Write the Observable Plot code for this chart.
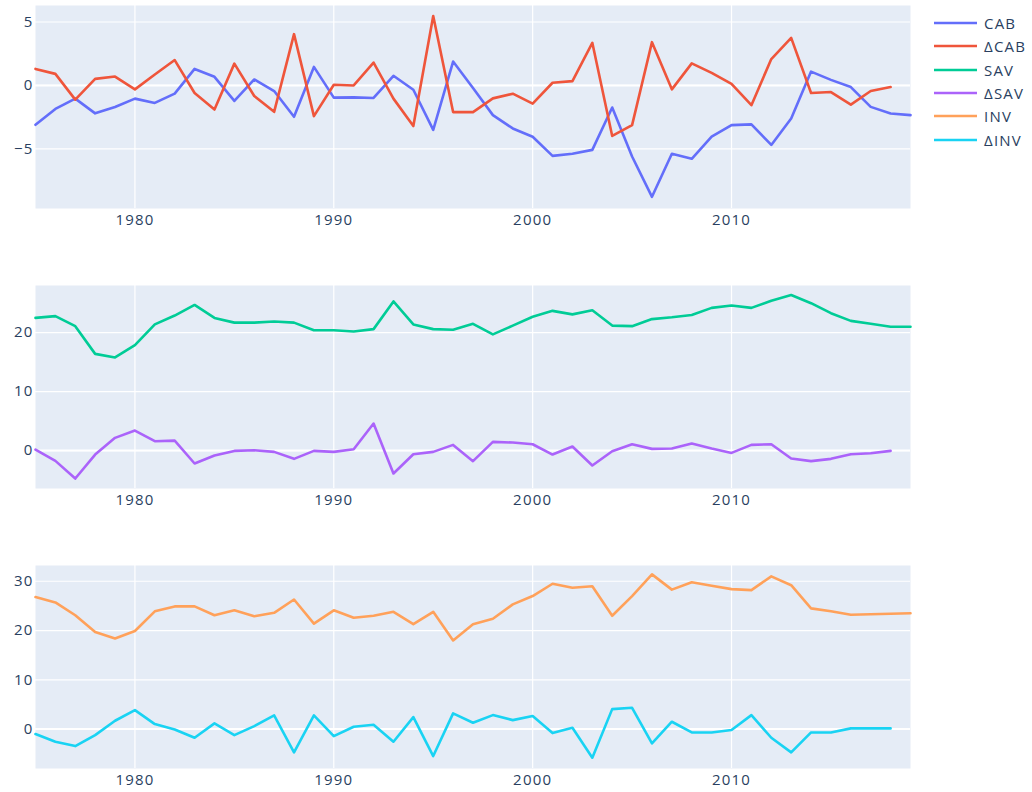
<!DOCTYPE html>
<html>
<head>
<meta charset="utf-8">
<script src="https://cdn.jsdelivr.net/npm/d3@7"></script>
<script src="https://cdn.jsdelivr.net/npm/@observablehq/plot@0.6"></script>
<style>
  body { margin: 0; background: #ffffff; font-family: "Open Sans", sans-serif; }
  #wrap { position: relative; width: 1032px; height: 792px; overflow: hidden; }
  .panel { position: absolute; left: 0; }
  .legend-item { position: absolute; left: 934px; height: 20px; display: flex; align-items: center;
    font-family: "Open Sans", sans-serif; font-size: 15px; color: #2a3f5f; letter-spacing: 1.2px; }
  .legend-item svg { margin-right: 7px; }
</style>
</head>
<body>
<div id="wrap"></div>
<script>
const years = [1975,1976,1977,1978,1979,1980,1981,1982,1983,1984,
               1985,1986,1987,1988,1989,1990,1991,1992,1993,1994,
               1995,1996,1997,1998,1999,2000,2001,2002,2003,2004,
               2005,2006,2007,2008,2009,2010,2011,2012,2013,2014,
               2015,2016,2017,2018,2019];

const CAB = [-3.1,-1.85,-1.04,-2.2,-1.7,-1.04,-1.38,-0.65,1.3,0.68,
             -1.22,0.47,-0.44,-2.47,1.46,-0.96,-0.94,-0.99,0.76,-0.34,
             -3.5,1.88,-0.2,-2.34,-3.39,-4.04,-5.55,-5.39,-5.08,-1.74,
             -5.6,-8.78,-5.39,-5.78,-4.04,-3.13,-3.07,-4.69,-2.6,1.09,
             0.44,-0.13,-1.69,-2.21,-2.34];
const dCAB = [1.3,0.91,-1.12,0.52,0.7,-0.31,0.86,2.0,-0.6,-1.9,
              1.72,-0.83,-2.08,4.04,-2.42,0.05,0.0,1.8,-1.04,-3.2,
              5.47,-2.1,-2.1,-1.02,-0.65,-1.43,0.21,0.34,3.36,-3.98,
              -3.13,3.41,-0.31,1.74,0.99,0.13,-1.56,2.08,3.75,-0.6,
              -0.52,-1.51,-0.44,-0.13];
const SAV = [22.5,22.8,21.1,16.4,15.8,17.9,21.4,22.9,24.7,22.5,
             21.7,21.7,21.9,21.7,20.4,20.4,20.2,20.6,25.3,21.4,
             20.6,20.5,21.5,19.7,21.2,22.7,23.7,23.1,23.8,21.2,
             21.1,22.3,22.6,23.0,24.2,24.6,24.2,25.4,26.4,25.0,
             23.3,22.0,21.5,21.0,21.0];
const dSAV = [0.17,-1.75,-4.75,-0.68,2.15,3.39,1.58,1.69,-2.2,-0.85,
              -0.06,0.06,-0.23,-1.41,-0.06,-0.23,0.23,4.58,-3.9,-0.62,
              -0.23,0.96,-1.8,1.47,1.36,1.07,-0.68,0.68,-2.54,-0.11,
              1.07,0.28,0.34,1.19,0.34,-0.4,0.96,1.07,-1.36,-1.8,
              -1.41,-0.62,-0.45,-0.06];
const INV = [26.8,25.7,23.1,19.7,18.4,19.9,23.9,24.9,24.9,23.1,
             24.1,22.9,23.6,26.3,21.4,24.1,22.6,23.0,23.8,21.3,
             23.8,18.0,21.3,22.4,25.3,27.0,29.5,28.7,29.0,23.0,
             27.0,31.4,28.3,29.8,29.1,28.4,28.2,31.0,29.2,24.5,
             23.9,23.2,23.3,23.4,23.5];
const dINV = [-1.0,-2.57,-3.45,-1.22,1.69,3.85,1.01,-0.07,-1.76,1.15,
              -1.22,0.61,2.77,-4.73,2.77,-1.42,0.47,0.88,-2.57,2.43,
              -5.47,3.18,1.28,2.84,1.82,2.64,-0.81,0.27,-5.81,4.05,
              4.32,-2.91,1.49,-0.68,-0.68,-0.2,2.84,-1.76,-4.73,-0.68,
              -0.68,0.14,0.14,0.14];

const seriesNames = ["CAB","ΔCAB","SAV","ΔSAV","INV","ΔINV"];
const seriesColors = ["#636efa","#EF553B","#00cc96","#ab63fa","#FFA15A","#19d3f3"];
const xTicks = [1980,1990,2000,2010];
const yTicksTop = [-5,0,5];
const yTicksMid = [0,10,20];
const yTicksBot = [0,10,20,30];

const seriesValues = [CAB,dCAB,SAV,dSAV,INV,dINV];
const rows = i => seriesValues[i].map((v,k) => ({year: years[k], value: v}));

const panels = [
  {top: 0,   idx: [0,1], yDomain: [-9.7, 6.3],  yTicks: yTicksTop},
  {top: 280, idx: [2,3], yDomain: [-6.44, 28.0], yTicks: yTicksMid},
  {top: 560, idx: [4,5], yDomain: [-8.0, 33.2], yTicks: yTicksBot}
];

const wrap = document.getElementById("wrap");
const fontStyle = {fontFamily: '"Open Sans", sans-serif', fontSize: "15px", color: "#2a3f5f", background: "transparent", letterSpacing: "1.2px"};

for (const p of panels) {
  const chart = Plot.plot({
    width: 920, height: 230,
    marginLeft: 35, marginRight: 10, marginTop: 5, marginBottom: 22,
    style: fontStyle,
    x: {type: "linear", domain: [1975, 2019]},
    y: {type: "linear", domain: p.yDomain},
    marks: [
      Plot.frame({fill: "#E5ECF6", stroke: null}),
      Plot.gridX({ticks: xTicks, stroke: "#ffffff", strokeOpacity: 1, strokeWidth: 1.2}),
      Plot.gridY({ticks: p.yTicks, stroke: "#ffffff", strokeOpacity: 1, strokeWidth: 1.2}),
      Plot.ruleY([0], {stroke: "#ffffff", strokeWidth: 2}),
      ...p.idx.map(i => Plot.line(rows(i), {x: "year", y: "value", stroke: seriesColors[i], strokeWidth: 2.6})),
      Plot.axisX({ticks: xTicks, tickFormat: "d", tickSize: 0, tickPadding: 6, label: null}),
      Plot.axisY({ticks: p.yTicks, tickSize: 0, tickPadding: 2, label: null})
    ]
  });
  chart.classList.add("panel");
  chart.style.top = p.top + "px";
  chart.style.position = "absolute";
  chart.style.left = "0px";
  wrap.appendChild(chart);
}

seriesNames.forEach((name, i) => {
  const item = document.createElement("div");
  item.className = "legend-item";
  item.style.top = (13 + i * 23.3) + "px";
  item.innerHTML = `<svg width="43" height="4"><line x1="0" x2="43" y1="2" y2="2" stroke="${seriesColors[i]}" stroke-width="2.6"/></svg><span>${name}</span>`;
  wrap.appendChild(item);
});
</script>
</body>
</html>
